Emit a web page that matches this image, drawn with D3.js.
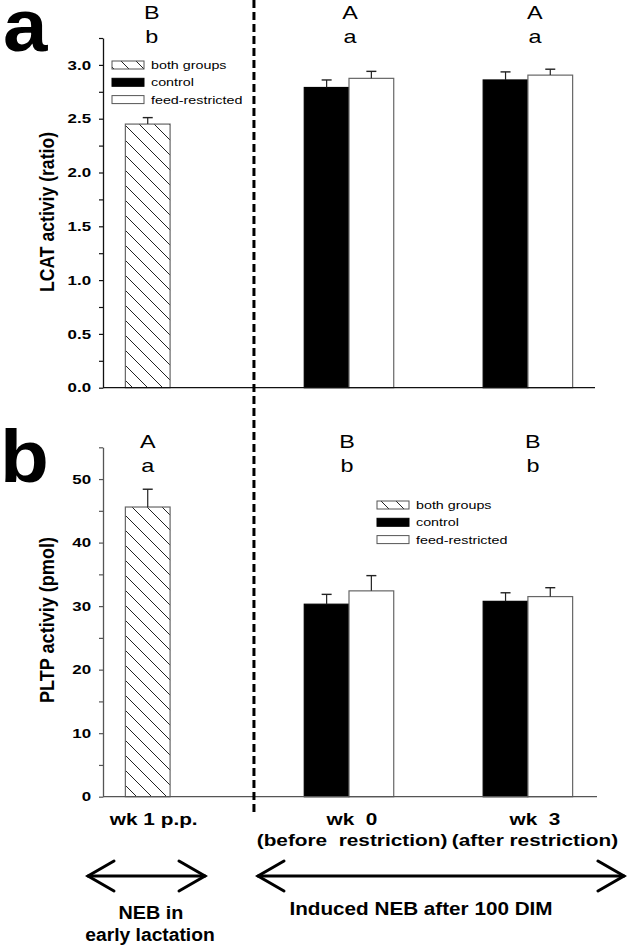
<!DOCTYPE html>
<html>
<head>
<meta charset="utf-8">
<script src="https://cdnjs.cloudflare.com/ajax/libs/d3/7.8.5/d3.min.js"></script>
<style>
  body { margin: 0; background: #fff; }
  svg text { font-family: "Liberation Sans", Arial, sans-serif; fill: #000; }
</style>
</head>
<body>
<script>
// ---- data ----
const categories = ["wk 1 p.p.", "wk 0", "wk 3"];
const subLabels = ["", "(before  restriction)", "(after restriction)"];
const seriesNames = ["both groups", "control", "feed-restricted"];

// LCAT activity (ratio)
const lcatBoth = [2.45];            const lcatBothErr = [0.06];
const lcatControl = [2.79, 2.86];   const lcatControlErr = [0.07, 0.075];
const lcatFeed = [2.875, 2.905];    const lcatFeedErr = [0.065, 0.055];
const lcatUpper = ["B", "A", "A"];
const lcatLower = ["b", "a", "a"];
const lcatTicks = [0, 0.5, 1.0, 1.5, 2.0, 2.5, 3.0];
const lcatMinor = [0.25, 0.75, 1.25, 1.75, 2.25, 2.75, 3.25];

// PLTP activity (pmol)
const pltpBoth = [45.6];            const pltpBothErr = [2.8];
const pltpControl = [30.3, 30.75];  const pltpControlErr = [1.55, 1.35];
const pltpFeed = [32.4, 31.5];      const pltpFeedErr = [2.4, 1.4];
const pltpUpper = ["A", "B", "B"];
const pltpLower = ["a", "b", "b"];
const pltpTicks = [0, 10, 20, 30, 40, 50];
const pltpMinor = [5, 15, 25, 35, 45, 55];

// ---- layout ----
const W = 627, H = 949;
const SX = 1.3;  // the original figure is stretched sideways
const slotStart = {"wk 1 p.p.": 0.5, "wk 0": 4.5, "wk 3": 8.5};
const x = d3.scaleLinear().domain([0, 11]).range([103, 595]);
const fmtA = d3.format(".1f");

const svg = d3.select("body").append("svg")
  .attr("width", W).attr("height", H);
svg.append("rect").attr("width", W).attr("height", H).attr("fill", "#fff");

const defs = svg.append("defs");
const pat = defs.append("pattern")
  .attr("id", "hatch")
  .attr("patternUnits", "userSpaceOnUse")
  .attr("width", 15).attr("height", 15);
pat.append("rect").attr("width", 15).attr("height", 15).attr("fill", "#fff");
pat.append("path")
  .attr("d", "M0,0L15,15M-2,13L2,17M13,-2L17,2")
  .attr("stroke", "#222").attr("stroke-width", 1);

const fills = {"both groups": "url(#hatch)", "control": "#000", "feed-restricted": "#fff"};

function stretchText(g, px, py, str, size, weight, anchor, sx) {
  return g.append("text")
    .attr("transform", `translate(${px},${py}) scale(${sx || SX},1)`)
    .attr("text-anchor", anchor || "middle")
    .style("font-size", size + "px")
    .style("font-weight", weight || "normal")
    .text(str);
}

function drawPanel(p) {
  const g = svg.append("g");
  const y = d3.scaleLinear().domain(p.domain).range(p.yRange);

  // bars
  const bars = [];
  bars.push({cat: categories[0], s: "both groups", v: p.both[0], e: p.bothErr[0], slot: 0});
  categories.slice(1).forEach((c, i) => {
    bars.push({cat: c, s: "control", v: p.control[i], e: p.controlErr[i], slot: 0});
    bars.push({cat: c, s: "feed-restricted", v: p.feed[i], e: p.feedErr[i], slot: 1});
  });

  g.selectAll("rect.bar").data(bars).enter().append("rect")
    .attr("class", "bar")
    .attr("x", d => x(slotStart[d.cat] + d.slot))
    .attr("width", d => x(slotStart[d.cat] + d.slot + 1) - x(slotStart[d.cat] + d.slot))
    .attr("y", d => y(d.v))
    .attr("height", d => y(0) - y(d.v))
    .attr("fill", d => fills[d.s])
    .attr("stroke", d => d.s === "control" ? "#000" : "#666")
    .attr("stroke-width", 1.2);

  // error whiskers (upper only)
  const eb = g.selectAll("g.err").data(bars).enter().append("g")
    .attr("transform", d => `translate(${x(slotStart[d.cat] + d.slot + 0.5)},0)`);
  eb.append("line")
    .attr("y1", d => y(d.v)).attr("y2", d => y(d.v + d.e))
    .attr("stroke", "#222").attr("stroke-width", 1.2);
  eb.append("line")
    .attr("x1", -5).attr("x2", 5)
    .attr("y1", d => y(d.v + d.e)).attr("y2", d => y(d.v + d.e))
    .attr("stroke", "#222").attr("stroke-width", 1.4);

  // y axis: major + minor ticks
  const all = p.ticks.concat(p.minor).sort((a, b) => a - b);
  const ax = g.append("g")
    .attr("transform", `translate(${x(0)},0)`)
    .call(d3.axisLeft(y).tickValues(all).tickSizeInner(4).tickSizeOuter(0).tickPadding(5.2)
      .tickFormat(v => p.ticks.includes(v) ? p.fmt(v) : ""));
  ax.select(".domain").attr("stroke", p.axisColor).attr("stroke-width", 1.3);
  ax.selectAll(".tick line").attr("stroke", p.axisColor).attr("stroke-width", 1.2);
  ax.selectAll(".tick text")
    .attr("transform", `scale(${SX},1)`)
    .style("font-size", "13px").style("font-weight", "bold")
    .attr("fill", "#000");

  // x axis baseline
  g.append("line")
    .attr("x1", x(0)).attr("x2", x(11) + p.xExtra)
    .attr("y1", y(0)).attr("y2", y(0))
    .attr("stroke", p.axisColor).attr("stroke-width", 1.3);

  // y title
  g.append("text")
    .attr("transform", `translate(54,${p.titleY}) rotate(-90) scale(1,${SX})`)
    .attr("text-anchor", "middle")
    .attr("textLength", p.titleLen)
    .attr("lengthAdjust", "spacingAndGlyphs")
    .style("font-size", "16px").style("font-weight", "bold")
    .text(p.title);

  // significance letters
  categories.forEach((c, i) => {
    const n = i === 0 ? 1 : 2;
    const cx = x(slotStart[c] + n / 2) + p.letterDx[i];
    stretchText(g, cx, p.letterY[0], p.upper[i], 18);
    stretchText(g, cx, p.letterY[1], p.lower[i], 18);
  });

  // legend
  seriesNames.forEach((s, i) => {
    const ry = p.legend.y + i * 17.3;
    g.append("rect")
      .attr("x", p.legend.x).attr("y", ry - 4)
      .attr("width", 32).attr("height", 8)
      .attr("fill", fills[s])
      .attr("stroke", s === "control" ? "#000" : "#555").attr("stroke-width", 1);
    stretchText(g, p.legend.x + 39, ry + 4, s, 11, "normal", "start");
  });

  // panel letter
  stretchText(g, p.tag.x, p.tag.y, p.tag.t, 74, "bold", "start", 1.08);
}

drawPanel({
  domain: [0, 3.25], yRange: [387.7, 38],
  both: lcatBoth, bothErr: lcatBothErr,
  control: lcatControl, controlErr: lcatControlErr,
  feed: lcatFeed, feedErr: lcatFeedErr,
  ticks: lcatTicks, minor: lcatMinor, fmt: fmtA,
  axisColor: "#111", xExtra: 0,
  title: "LCAT activiy (ratio)", titleY: 212, titleLen: 160,
  upper: lcatUpper, lower: lcatLower,
  letterY: [19, 43], letterDx: [4, 1, 7],
  legend: {x: 112, y: 65},
  tag: {t: "a", x: 3, y: 51}
});

drawPanel({
  domain: [0, 55], yRange: [796.7, 447.3],
  both: pltpBoth, bothErr: pltpBothErr,
  control: pltpControl, controlErr: pltpControlErr,
  feed: pltpFeed, feedErr: pltpFeedErr,
  ticks: pltpTicks, minor: pltpMinor, fmt: d3.format("d"),
  axisColor: "#555", xExtra: 2,
  title: "PLTP activiy (pmol)", titleY: 620, titleLen: 166,
  upper: pltpUpper, lower: pltpLower,
  letterY: [448, 472], letterDx: [0, -2, 5],
  legend: {x: 377, y: 505},
  tag: {t: "b", x: 0, y: 482}
});

// dashed separator between early lactation and induced NEB
svg.append("line")
  .attr("x1", x(3.375)).attr("x2", x(3.375))
  .attr("y1", 0).attr("y2", 813)
  .attr("stroke", "#000").attr("stroke-width", 3)
  .attr("stroke-dasharray", "8,4");

// category labels under panel b
const labelDx = [6, 3, 7];
categories.forEach((c, i) => {
  const n = i === 0 ? 1 : 2;
  const cx = x(slotStart[c] + n / 2) + labelDx[i];
  const lab = i === 0 ? c : c.replace(" ", "  ");
  stretchText(svg, cx, 825, lab, 16, "bold").style("white-space", "pre");
  if (subLabels[i]) stretchText(svg, cx, 846, subLabels[i], 16, "bold").style("white-space", "pre");
});

// period arrows
function arrow(x1, x2, ay) {
  const a = svg.append("g").attr("fill", "none").attr("stroke", "#000")
    .attr("stroke-width", 3).attr("stroke-linecap", "round");
  a.append("line").attr("x1", x1).attr("x2", x2).attr("y1", ay).attr("y2", ay);
  a.append("path").attr("d", `M${x1 + 26},${ay - 15}L${x1},${ay}L${x1 + 26},${ay + 15}`);
  a.append("path").attr("d", `M${x2 - 26},${ay - 15}L${x2},${ay}L${x2 - 26},${ay + 15}`);
}
arrow(88, 205, 876);
arrow(258, 624, 876);

stretchText(svg, 151, 919, "NEB in", 18, "bold", "middle", 1.1);
stretchText(svg, 150, 941, "early lactation", 18, "bold", "middle", 1.07);
stretchText(svg, 421, 915, "Induced NEB after 100 DIM", 18, "bold", "middle", 1.15);
</script>
</body>
</html>
